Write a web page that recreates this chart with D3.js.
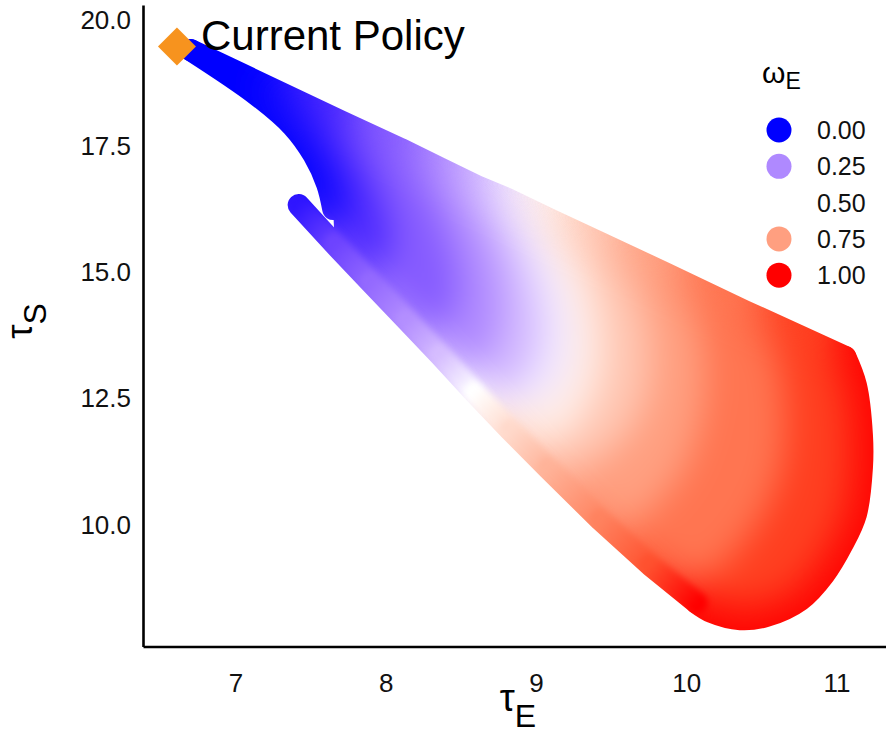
<!DOCTYPE html>
<html>
<head>
<meta charset="utf-8">
<script src="https://cdn.jsdelivr.net/npm/d3@7"></script>
<style>
  body { margin: 0; background: #fff; }
  svg { display: block; font-family: "Liberation Sans", Arial, Helvetica, sans-serif; }
</style>
</head>
<body>
<div id="chart"></div>
<script>
// ω_E of each iso-line through the cloud of policies
const omegaLevels = [0, 0.1, 0.2, 0.3, 0.4, 0.5, 0.6, 0.7, 0.8, 0.9, 1.0];

// τ_E / τ_S along each iso-line, from the upper edge of the cloud to its lower edge
const isoTauE = [
  [6.70, 7.14, 7.38, 7.52, 7.61, 7.65],
  [7.70, 7.88, 8.00, 8.03, 7.90],
  [8.10, 8.31, 8.44, 8.48, 8.36, 8.21],
  [8.36, 8.61, 8.74, 8.77, 8.69, 8.48],
  [8.61, 8.86, 8.99, 9.03, 8.94, 8.76, 8.56],
  [8.81, 9.08, 9.21, 9.24, 9.15, 8.96, 8.76, 8.61],
  [9.09, 9.33, 9.43, 9.45, 9.35, 9.16, 8.96],
  [9.43, 9.66, 9.76, 9.75, 9.61, 9.39, 9.16],
  [9.86, 10.06, 10.13, 10.09, 9.96, 9.76, 9.56],
  [10.39, 10.59, 10.66, 10.64, 10.51, 10.29, 10.09, 9.93],
  [11.06, 11.13, 11.17, 11.17, 11.13, 11.04, 10.92, 10.76, 10.53, 10.36, 10.17, 10.07]
];
const isoTauS = [
  [19.38, 18.49, 17.87, 17.30, 16.72, 16.23],
  [17.97, 17.10, 16.21, 15.42, 14.78],
  [17.42, 16.41, 15.42, 14.52, 13.83, 13.79],
  [17.04, 16.05, 15.06, 14.07, 13.34, 12.96],
  [16.68, 15.71, 14.72, 13.73, 12.94, 12.60, 12.70],
  [16.43, 15.42, 14.43, 13.44, 12.64, 12.35, 12.25, 12.52],
  [16.03, 15.12, 14.13, 13.14, 12.25, 11.65, 11.42],
  [15.56, 14.72, 13.73, 12.64, 11.75, 11.22, 10.86],
  [14.96, 14.13, 13.04, 11.95, 10.96, 10.27, 9.71],
  [14.21, 13.44, 12.35, 11.16, 10.17, 9.32, 8.88, 8.78],
  [13.30, 12.74, 11.75, 11.12, 10.19, 9.59, 9.00, 8.49, 8.17, 8.11, 8.25, 8.43]
];

// the strip of points along the lower edge
const stripTauE = [7.42, 7.66, 7.90, 8.14, 8.36, 8.59, 8.83, 9.08, 9.43, 9.76, 10.07];
const stripTauS = [16.31, 15.53, 14.78, 14.03, 13.34, 12.60, 11.85, 11.10, 10.07, 9.18, 8.43];
const stripOmega = [0.02, 0.10, 0.18, 0.26, 0.36, 0.50, 0.60, 0.70, 0.82, 0.92, 1.00];

const currentPolicy = { tauE: 6.61, tauS: 19.45, label: "Current Policy", labelTauE: 6.77, labelTauS: 19.38 };

const xTicks = [7, 8, 9, 10, 11];
const yTicks = [10, 12.5, 15, 17.5, 20];
const legendBreaks = [0, 0.25, 0.5, 0.75, 1];

const W = 886, H = 734;
const pointR = 11;

const x = d3.scaleLinear().domain([6.384, 11.33]).range([143, 886]);
const y = d3.scaleLinear().domain([7.57, 20.27]).range([646.5, 5]);
const color = d3.scaleLinear().domain([0, 0.5, 1])
  .range(["#0000ff", "#ffffff", "#ff0000"])
  .interpolate(d3.interpolateLab);

const svg = d3.select("#chart").append("svg").attr("width", W).attr("height", H);
svg.append("rect").attr("width", W).attr("height", H).attr("fill", "#fff");
const defs = svg.append("defs");

// blur the colour bands, then push alpha back to 1 so colours spread to the edge
const smooth = defs.append("filter").attr("id", "smooth")
  .attr("filterUnits", "userSpaceOnUse")
  .attr("x", 0).attr("y", 0).attr("width", W).attr("height", H)
  .attr("color-interpolation-filters", "sRGB");
smooth.append("feGaussianBlur").attr("stdDeviation", 17);
smooth.append("feComponentTransfer")
  .append("feFuncA").attr("type", "linear").attr("slope", 60).attr("intercept", 0);

const soft = defs.append("filter").attr("id", "soft")
  .attr("filterUnits", "userSpaceOnUse")
  .attr("x", 0).attr("y", 0).attr("width", W).attr("height", H)
  .attr("color-interpolation-filters", "sRGB");
soft.append("feGaussianBlur").attr("stdDeviation", 3);

const curves = omegaLevels.map((w, i) => ({
  omega: w,
  pts: isoTauE[i].map((e, j) => [x(e), y(isoTauS[i][j])])
}));
const strip = stripTauE.map((e, i) => [x(e), y(stripTauS[i])]);

const smoothLine = d3.line().curve(d3.curveCatmullRom.alpha(0.5));
const straight = d3.line();
const cont = (d) => d.replace(/^M/, "L");

const first = curves[0], last = curves[curves.length - 1];
const upperEdge = curves.map((c) => c.pts[0]);

// outline of the cloud (centre lines of the outer points)
const outline = straight(upperEdge)
  + cont(smoothLine(last.pts))
  + cont(straight(strip.slice(1).reverse()))
  + cont(smoothLine(first.pts.slice().reverse()))
  + "Z";

const mask = defs.append("mask").attr("id", "cloud")
  .attr("maskUnits", "userSpaceOnUse")
  .attr("x", 0).attr("y", 0).attr("width", W).attr("height", H);
mask.append("path").attr("d", outline).attr("fill", "#fff");
[straight(upperEdge), smoothLine(first.pts), smoothLine(last.pts), straight(strip)].forEach((d) => {
  mask.append("path").attr("d", d)
    .attr("fill", "none").attr("stroke", "#fff")
    .attr("stroke-width", pointR * 2)
    .attr("stroke-linecap", "round").attr("stroke-linejoin", "round");
});

// gradients for the lower strip, one per segment
strip.slice(0, -1).forEach((p, i) => {
  const q = strip[i + 1];
  const g = defs.append("linearGradient").attr("id", "strip-" + i)
    .attr("gradientUnits", "userSpaceOnUse")
    .attr("x1", p[0]).attr("y1", p[1]).attr("x2", q[0]).attr("y2", q[1]);
  g.append("stop").attr("offset", 0).attr("stop-color", color(stripOmega[i]));
  g.append("stop").attr("offset", 1).attr("stop-color", color(stripOmega[i + 1]));
});

function drawStrip(g) {
  strip.slice(0, -1).forEach((p, i) => {
    g.append("path").attr("d", straight([p, strip[i + 1]]))
      .attr("fill", "none")
      .attr("stroke", `url(#strip-${i})`)
      .attr("stroke-width", pointR * 2)
      .attr("stroke-linecap", "round");
  });
}

const cloud = svg.append("g").attr("mask", "url(#cloud)");
const field = cloud.append("g").attr("filter", "url(#smooth)");

// bands between neighbouring iso-lines
curves.slice(0, -1).forEach((c, k) => {
  const next = curves[k + 1];
  const d = smoothLine(c.pts) + cont(smoothLine(next.pts.slice().reverse())) + "Z";
  const fill = color((c.omega + next.omega) / 2);
  field.append("path").attr("d", d)
    .attr("fill", fill).attr("stroke", fill).attr("stroke-width", 1.5);
});

[first, last].forEach((c) => {
  field.append("path").attr("d", smoothLine(c.pts))
    .attr("fill", "none")
    .attr("stroke", color(c.omega))
    .attr("stroke-width", pointR * 2)
    .attr("stroke-linecap", "round").attr("stroke-linejoin", "round");
});
drawStrip(field);
drawStrip(cloud.append("g").attr("filter", "url(#soft)"));

// current policy marker
svg.append("path")
  .attr("d", d3.symbol(d3.symbolSquare, 720)())
  .attr("transform", `translate(${x(currentPolicy.tauE)},${y(currentPolicy.tauS)}) rotate(45)`)
  .attr("fill", "#F7931E");
svg.append("text")
  .attr("x", x(currentPolicy.labelTauE))
  .attr("y", y(currentPolicy.labelTauS))
  .attr("font-size", 42)
  .attr("fill", "#000")
  .text(currentPolicy.label);

// axes
const xAxis = svg.append("g").attr("transform", `translate(0,${y.range()[0]})`)
  .call(d3.axisBottom(x).tickValues(xTicks).tickSize(0).tickSizeOuter(0).tickFormat(d3.format("d")));
xAxis.selectAll("text").attr("y", 45.5).attr("dy", null)
  .attr("font-size", 26).attr("fill", "#111");

const yAxis = svg.append("g").attr("transform", `translate(${x.range()[0]},0)`)
  .call(d3.axisLeft(y).tickValues(yTicks).tickSize(0).tickSizeOuter(0).tickFormat(d3.format(".1f")));
yAxis.selectAll("text").attr("x", -12).attr("dy", "0.36em")
  .attr("font-size", 26).attr("fill", "#111");

[xAxis, yAxis].forEach((a) => {
  a.attr("font-family", null);
  a.select(".domain").attr("stroke", "#000").attr("stroke-width", 2.6);
});

// axis titles
const xt = svg.append("text")
  .attr("x", 518).attr("y", 711)
  .attr("text-anchor", "middle").attr("fill", "#000");
xt.append("tspan").attr("font-size", 38).text("τ");
xt.append("tspan").attr("font-size", 32).attr("dy", 16).text("E");

const yt = svg.append("text")
  .attr("transform", "translate(32,321) rotate(-90)")
  .attr("text-anchor", "middle").attr("fill", "#000");
yt.append("tspan").attr("font-size", 36).text("τ");
yt.append("tspan").attr("font-size", 32).attr("dy", 14).text("S");

// legend
const legend = svg.append("g");
const lt = legend.append("text").attr("x", 762).attr("y", 83).attr("fill", "#000");
lt.append("tspan").attr("font-size", 30).text("ω");
lt.append("tspan").attr("font-size", 23).attr("dy", 6).text("E");

const keys = legend.selectAll("g.key").data(legendBreaks).join("g")
  .attr("class", "key")
  .attr("transform", (d, i) => `translate(0,${130 + i * 36.3})`);
keys.append("circle").attr("cx", 779).attr("r", 12.5).attr("fill", (d) => color(d));
keys.append("text").attr("x", 817).attr("dy", "0.36em")
  .attr("font-size", 25).attr("fill", "#111")
  .text((d) => d3.format(".2f")(d));
</script>
</body>
</html>
